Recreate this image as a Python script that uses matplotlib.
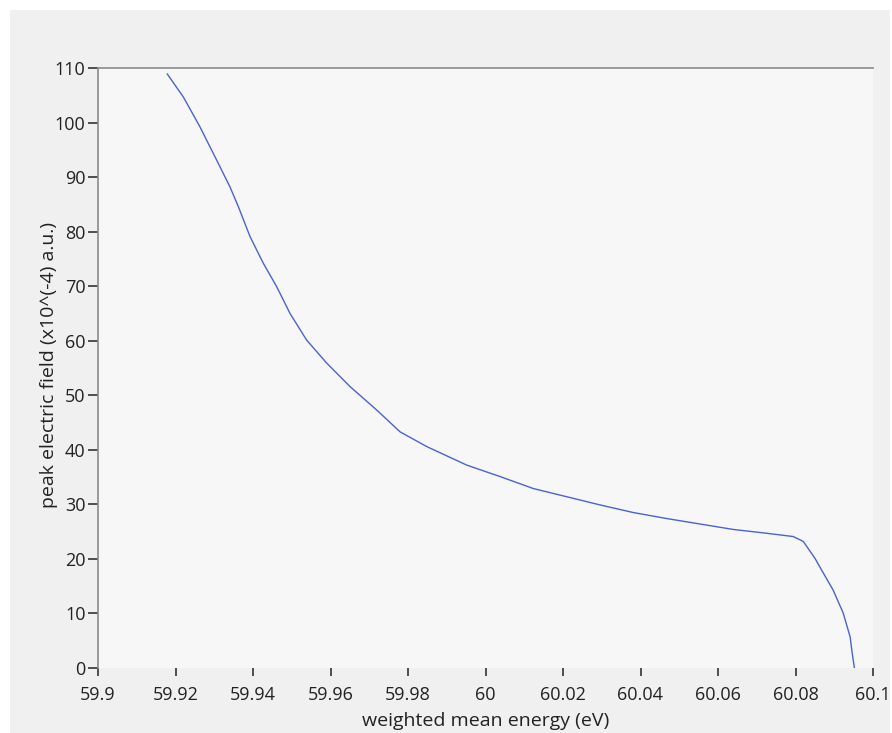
import numpy as np
import matplotlib.pyplot as plt
from matplotlib.patches import Rectangle

# weighted mean energy (eV) vs peak electric field (x10^-4 a.u.)
energy = [59.91788, 59.92201, 59.92632, 59.93063, 59.93406, 59.93621, 59.93923,
          59.94266, 59.94612, 59.94955, 59.95386, 59.95902, 59.96503, 59.97192,
          59.97794, 59.98483, 59.99515, 60.00374, 60.01234, 60.02095, 60.02955,
          60.03814, 60.04676, 60.05535, 60.06395, 60.07257, 60.07943, 60.08201,
          60.08503, 60.08630, 60.08970, 60.09230, 60.09410, 60.09460, 60.09520]
field = [108.9, 104.7, 99.2, 93.1, 88.2, 84.6, 79.1,
         74.2, 69.9, 65.0, 60.1, 55.9, 51.6, 47.3,
         43.3, 40.6, 37.2, 35.1, 32.9, 31.4, 29.9,
         28.5, 27.4, 26.4, 25.4, 24.7, 24.1, 23.2,
         20.1, 18.5, 14.3, 10.1, 5.7, 2.9, 0.0]

xticks = [59.9, 59.92, 59.94, 59.96, 59.98, 60, 60.02, 60.04, 60.06, 60.08, 60.1]
xticklabels = ['59.9', '59.92', '59.94', '59.96', '59.98', '60', '60.02',
               '60.04', '60.06', '60.08', '60.1']
yticks = list(range(0, 111, 10))

plt.rcParams['font.family'] = ['Open Sans', 'DejaVu Sans']

W, H = 892, 733
fig = plt.figure(figsize=(W / 100, H / 100), dpi=100, facecolor='white')
# gray panel behind the graph
fig.patches.append(Rectangle((10 / W, 0), 880 / W, 723 / H, transform=fig.transFigure,
                             facecolor='#f0f0f0', edgecolor='none', zorder=-10))

ax = fig.add_axes([98 / W, 1 - 668 / H, 775 / W, 600 / H])
ax.set_facecolor('#f7f7f7')
ax.plot(energy, field, color='#4a62d4', lw=1.0)

ax.set_xlim(59.9, 60.1)
ax.set_ylim(0, 110)
ax.set_xticks(xticks)
ax.set_xticklabels(xticklabels)
ax.set_yticks(yticks)

for s in ['right', 'bottom']:
    ax.spines[s].set_visible(False)
for s in ['top', 'left']:
    ax.spines[s].set_color('#8a8a8a')
    ax.spines[s].set_linewidth(1.2)

ax.tick_params(axis='x', direction='out', length=6, width=1.2, color='#333333',
               pad=7, labelsize=13, labelcolor='#222222')
ax.tick_params(axis='y', direction='out', length=7, width=1.2, color='#333333',
               pad=2, labelsize=13, labelcolor='#222222')

ax.set_xlabel('weighted mean energy (eV)', fontsize=14, color='#222222', labelpad=6)
ax.set_ylabel('peak electric field (x10^(-4) a.u.)', fontsize=14, color='#222222')
# y label sits closer to the tick numbers than the widest "110" label allows
ax.yaxis.set_label_coords(-0.052, 0.505)

fig.savefig('out.png', dpi=100)
